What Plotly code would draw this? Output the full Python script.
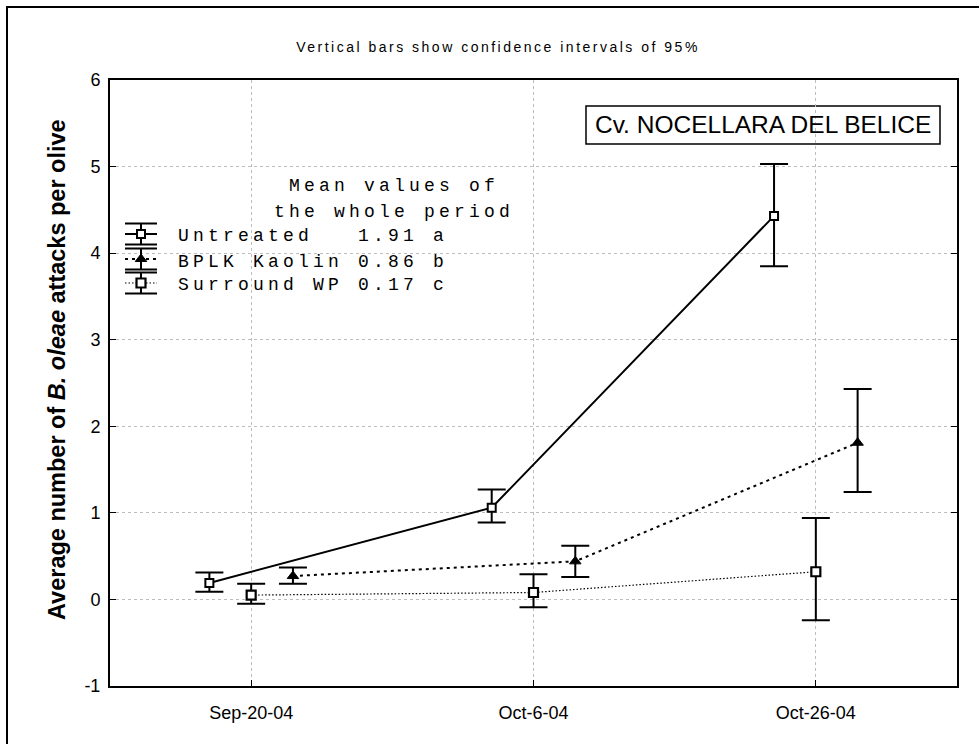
import plotly.graph_objects as go

# ---------------- data ----------------
dates = ["Sep-20-04", "Oct-6-04", "Oct-26-04"]

untreated_mean = [0.19, 1.06, 4.43]
untreated_upper = [0.31, 1.27, 5.03]
untreated_lower = [0.09, 0.89, 3.85]

kaolin_mean = [0.27, 0.44, 1.81]
kaolin_upper = [0.37, 0.62, 2.43]
kaolin_lower = [0.18, 0.26, 1.24]

surround_mean = [0.05, 0.08, 0.32]
surround_upper = [0.18, 0.29, 0.94]
surround_lower = [-0.05, -0.09, -0.24]

series_names = ["Untreated", "BPLK Kaolin", "Surround WP"]
period_means = ["1.91", "0.86", "0.17"]
period_letters = ["a", "b", "c"]

y_ticks = [-1, 0, 1, 2, 3, 4, 5, 6]
y_ticktext = ["-1", "0", "1", "2", "3", "4", "5", "6"]

# ---------------- layout geometry ----------------
W, H = 979, 744
ML, MR, MT, MB = 110, 22, 80, 58
PW, PH = W - ML - MR, H - MT - MB


def fx(px):
    return (px - ML) / PW


def fy(py):
    return (H - MB - py) / PH


SANS = "Arial, Liberation Sans, sans-serif"
MONO = "Liberation Mono, Courier New, monospace"

styles = [
    dict(offset=-0.148, line=dict(color="black", width=2, dash="solid"),
         marker=dict(symbol="square", size=8, color="white", line=dict(color="black", width=2))),
    dict(offset=0.148, line=dict(color="black", width=2, dash="3px,4px"),
         marker=dict(symbol="triangle-up", size=10, color="black", line=dict(color="black", width=1))),
    dict(offset=0.0, line=dict(color="black", width=1.2, dash="1.5px,2px"),
         marker=dict(symbol="square", size=9, color="white", line=dict(color="black", width=2.2))),
]

means = [untreated_mean, kaolin_mean, surround_mean]
uppers = [untreated_upper, kaolin_upper, surround_upper]
lowers = [untreated_lower, kaolin_lower, surround_lower]

fig = go.Figure()

for name, m, u, lo, st in zip(series_names, means, uppers, lowers, styles):
    fig.add_trace(go.Scatter(
        x=[i + st["offset"] for i in range(len(dates))],
        y=m,
        mode="lines+markers",
        name=name,
        line=st["line"],
        marker=st["marker"],
        error_y=dict(type="data", symmetric=False,
                     array=[a - b for a, b in zip(u, m)],
                     arrayminus=[b - c for b, c in zip(m, lo)],
                     color="black", thickness=2, width=14),
        showlegend=False,
        cliponaxis=False,
    ))

# ---------------- custom legend (keys on overlay axis) ----------------
key_cx = fx(141)
key_x0, key_x1 = fx(125), fx(157)
row_py = [234, 259, 283]
cap = 10.5 / PH
for st, py in zip(styles, row_py):
    yk = fy(py)
    fig.add_trace(go.Scatter(
        x=[key_x0, key_x1], y=[yk, yk], mode="lines", line=st["line"],
        xaxis="x2", yaxis="y2", showlegend=False, hoverinfo="skip"))
    fig.add_trace(go.Scatter(
        x=[key_cx], y=[yk], mode="markers", marker=st["marker"],
        error_y=dict(type="constant", value=cap, color="black", thickness=2, width=16),
        xaxis="x2", yaxis="y2", showlegend=False, hoverinfo="skip"))

ls = "letter-spacing:4.2px"
annotations = []
for txt, py in [("Mean values of", 186), ("the whole period", 212)]:
    annotations.append(dict(
        text=f'<span style="{ls}">{txt}</span>', x=fx(394), y=fy(py),
        xref="paper", yref="paper", showarrow=False, xanchor="center", yanchor="middle",
        font=dict(family=MONO, size=18, color="black")))
for name, mv, lt, py in zip(series_names, period_means, period_letters, [236, 262, 285]):
    label = name.ljust(12).replace(" ", "\u00a0") + mv + "\u00a0" + lt
    annotations.append(dict(
        text=f'<span style="{ls}">{label}</span>', x=fx(176), y=fy(py),
        xref="paper", yref="paper", showarrow=False, xanchor="left", yanchor="middle",
        font=dict(family=MONO, size=18, color="black")))

annotations.append(dict(
    text="Cv. NOCELLARA DEL BELICE", x=fx(763), y=fy(125),
    xref="paper", yref="paper", showarrow=False, xanchor="center", yanchor="middle",
    font=dict(family=SANS, size=24.5, color="black")))

# y-axis title placed as rotated annotation to match the original position
annotations.append(dict(
    text="<b>Average number of <i>B. oleae</i> attacks per olive</b>",
    x=fx(57), y=fy(370), xref="paper", yref="paper", showarrow=False,
    textangle=-90, xanchor="center", yanchor="middle",
    font=dict(family=SANS, size=23.5, color="black")))

shapes = [
    dict(type="rect", xref="paper", yref="paper",
         x0=fx(586), x1=fx(940), y0=fy(144), y1=fy(106),
         line=dict(color="black", width=1.5), fillcolor="white", layer="below"),
    dict(type="rect", xref="paper", yref="paper",
         x0=fx(7), x1=fx(995), y0=fy(760), y1=fy(7),
         line=dict(color="black", width=2), fillcolor="rgba(0,0,0,0)", layer="above"),
]

fig.update_layout(
    width=W, height=H,
    margin=dict(l=ML, r=MR, t=MT, b=MB),
    paper_bgcolor="white", plot_bgcolor="white",
    title=dict(text='<span style="letter-spacing:2.5px">Vertical bars show confidence intervals of 95%</span>',
               x=498 / W, y=1 - 47 / H, xref="container", yref="container",
               xanchor="center", yanchor="middle",
               font=dict(family=SANS, size=14, color="black")),
    xaxis=dict(range=[-0.5, 2.5], tickvals=list(range(len(dates))), ticktext=dates,
               showgrid=True, gridcolor="#bdbdbd", griddash="dot", gridwidth=1,
               showline=True, linecolor="black", linewidth=2, mirror=True,
               ticks="inside", ticklen=6, tickcolor="black", tickwidth=1,
               ticklabelstandoff=9,
               zeroline=False, tickfont=dict(family=SANS, size=18, color="black")),
    yaxis=dict(range=[-1, 6], tickvals=y_ticks, ticktext=y_ticktext,
               showgrid=True, gridcolor="#bdbdbd", griddash="dot", gridwidth=1,
               showline=True, linecolor="black", linewidth=2, mirror="ticks",
               ticks="inside", ticklen=6, tickcolor="black", tickwidth=1,
               ticklabelstandoff=4,
               zeroline=False, tickfont=dict(family=SANS, size=18, color="black")),
    xaxis2=dict(range=[0, 1], overlaying="x", visible=False, fixedrange=True),
    yaxis2=dict(range=[0, 1], overlaying="y", visible=False, fixedrange=True),
    annotations=annotations,
    shapes=shapes,
    showlegend=False,
)

fig.write_html("out.html")
